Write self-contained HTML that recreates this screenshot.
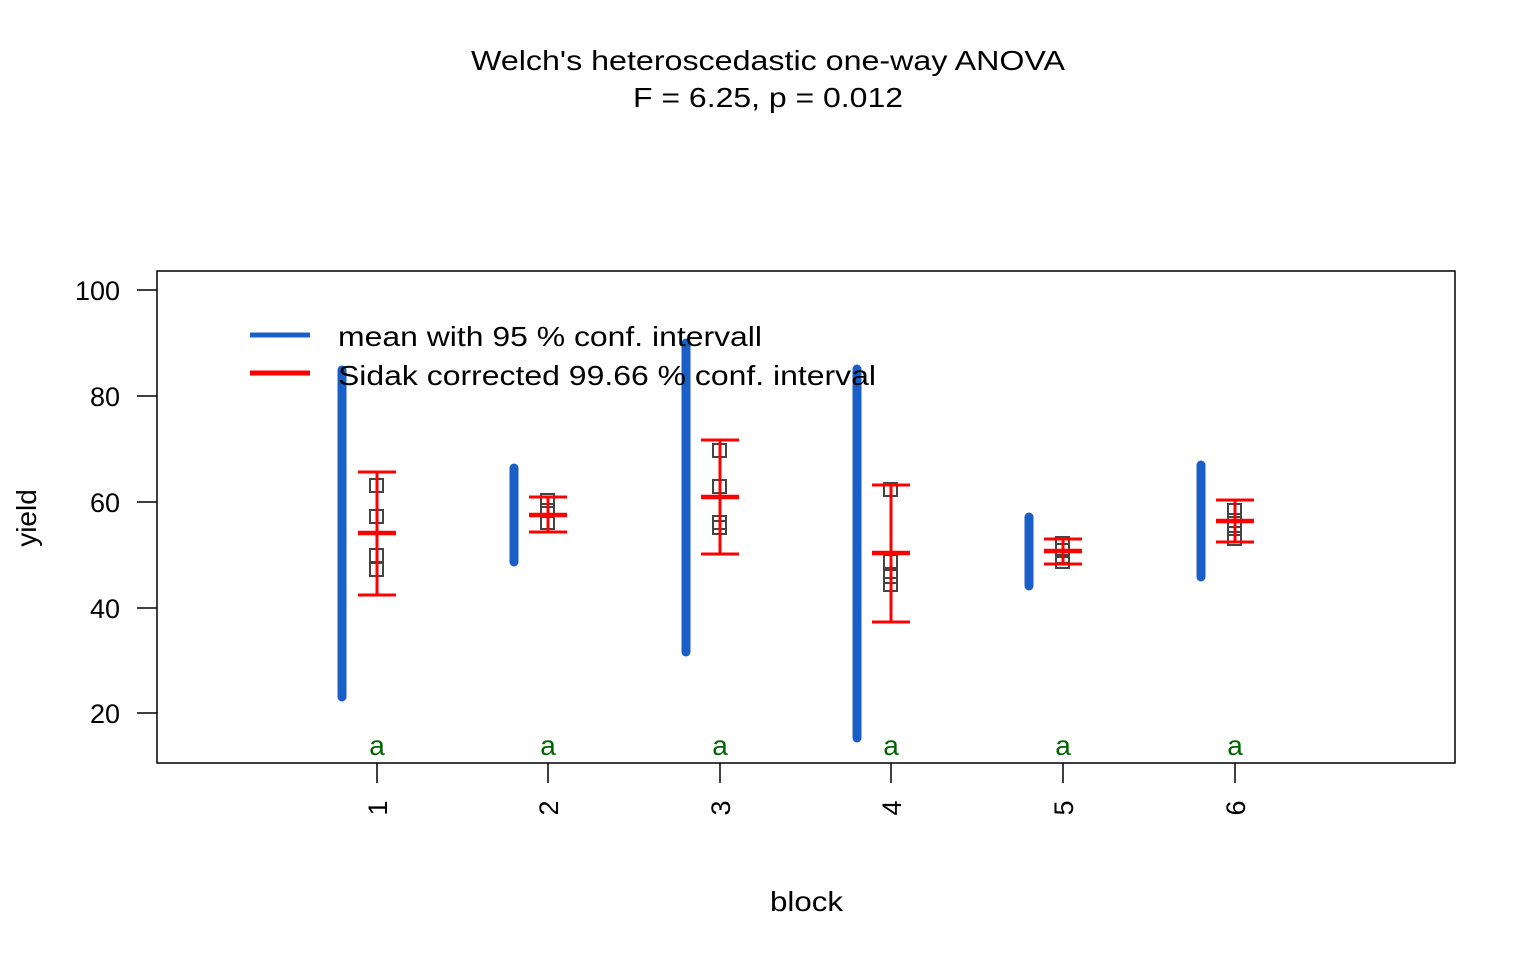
<!DOCTYPE html>
<html><head><style>body{margin:0;background:#fff}svg{display:block}text{font-family:"Liberation Sans",Arial,sans-serif}</style></head>
<body>
<svg width="1536" height="960" xmlns="http://www.w3.org/2000/svg">
<text x="471" y="70" font-size="28" textLength="594" lengthAdjust="spacingAndGlyphs">Welch's heteroscedastic one-way ANOVA</text>
<text x="633" y="107" font-size="28" textLength="270" lengthAdjust="spacingAndGlyphs">F = 6.25, p = 0.012</text>
<rect x="157" y="271" width="1298" height="492" fill="none" stroke="#000" stroke-width="1.5"/>
<g stroke="#000" stroke-width="1.5">
<line x1="137" y1="290" x2="157" y2="290"/><line x1="137" y1="396" x2="157" y2="396"/><line x1="137" y1="502" x2="157" y2="502"/><line x1="137" y1="608" x2="157" y2="608"/><line x1="137" y1="713" x2="157" y2="713"/>
<line x1="377" y1="763" x2="377" y2="783"/><line x1="548" y1="763" x2="548" y2="783"/><line x1="720" y1="763" x2="720" y2="783"/><line x1="891" y1="763" x2="891" y2="783"/><line x1="1063" y1="763" x2="1063" y2="783"/><line x1="1235" y1="763" x2="1235" y2="783"/>
</g>
<g font-size="27" text-anchor="end">
<text x="120" y="300">100</text><text x="120" y="406">80</text><text x="120" y="512">60</text><text x="120" y="618">40</text><text x="120" y="723">20</text>
</g>
<g font-size="27" text-anchor="middle">
<text transform="translate(387,808) rotate(-90)">1</text>
<text transform="translate(558,808) rotate(-90)">2</text>
<text transform="translate(730,808) rotate(-90)">3</text>
<text transform="translate(901,808) rotate(-90)">4</text>
<text transform="translate(1073,808) rotate(-90)">5</text>
<text transform="translate(1245,808) rotate(-90)">6</text>
</g>
<text x="770" y="911" font-size="28" textLength="73" lengthAdjust="spacingAndGlyphs">block</text>
<text transform="translate(36,518) rotate(-90)" font-size="28" text-anchor="middle">yield</text>
<g stroke="#1a5fc8" stroke-width="9" stroke-linecap="round">
<line x1="342" y1="370" x2="342" y2="697"/>
<line x1="514" y1="468" x2="514" y2="562"/>
<line x1="686" y1="343" x2="686" y2="652"/>
<line x1="857" y1="369" x2="857" y2="738"/>
<line x1="1029" y1="517" x2="1029" y2="586"/>
<line x1="1201" y1="465" x2="1201" y2="577"/>
</g>
<g fill="none" stroke="#444" stroke-width="2">
<rect x="370" y="479" width="13" height="13"/><rect x="370" y="510" width="13" height="13"/><rect x="370" y="549" width="13" height="13"/><rect x="370" y="563" width="13" height="13"/>
<rect x="541" y="494" width="13" height="13"/><rect x="541" y="504" width="13" height="13"/><rect x="541" y="516" width="13" height="13"/>
<rect x="713" y="444" width="13" height="13"/><rect x="713" y="480" width="13" height="13"/><rect x="713" y="516" width="13" height="13"/><rect x="713" y="521" width="13" height="13"/>
<rect x="884" y="483" width="13" height="13"/><rect x="884" y="555" width="13" height="13"/><rect x="884" y="570" width="13" height="13"/><rect x="884" y="578" width="13" height="13"/>
<rect x="1056" y="537" width="13" height="13"/><rect x="1056" y="544" width="13" height="13"/><rect x="1056" y="550" width="13" height="13"/><rect x="1056" y="555" width="13" height="13"/>
<rect x="1228" y="504" width="13" height="13"/><rect x="1228" y="514" width="13" height="13"/><rect x="1228" y="522" width="13" height="13"/><rect x="1228" y="532" width="13" height="13"/>
</g>
<g stroke="#f00" stroke-width="3">
<path d="M377 472V595M358 472H396M358 595H396"/>
<path d="M548 497V532M529 497H567M529 532H567"/>
<path d="M720 440V554M701 440H739M701 554H739"/>
<path d="M891 485V622M872 485H910M872 622H910"/>
<path d="M1063 539V564M1044 539H1082M1044 564H1082"/>
<path d="M1235 500V542M1216 500H1254M1216 542H1254"/>
</g>
<g stroke="#f00" stroke-width="4.5">
<path d="M358 533H396M529 515H567M701 497H739M872 553H910M1044 551H1082M1216 521H1254"/>
</g>
<g fill="#006400" font-size="28" text-anchor="middle">
<text x="377" y="755">a</text><text x="548" y="755">a</text><text x="720" y="755">a</text><text x="891" y="755">a</text><text x="1063" y="755">a</text><text x="1235" y="755">a</text>
</g>
<line x1="250" y1="335" x2="310" y2="335" stroke="#1a5fc8" stroke-width="5"/>
<line x1="250" y1="373" x2="310" y2="373" stroke="#f00" stroke-width="5"/>
<text x="338" y="346" font-size="28" textLength="424" lengthAdjust="spacingAndGlyphs">mean with 95 % conf. intervall</text>
<text x="338" y="385" font-size="28" textLength="538" lengthAdjust="spacingAndGlyphs">Sidak corrected 99.66 % conf. interval</text>
</svg>
</body></html>
